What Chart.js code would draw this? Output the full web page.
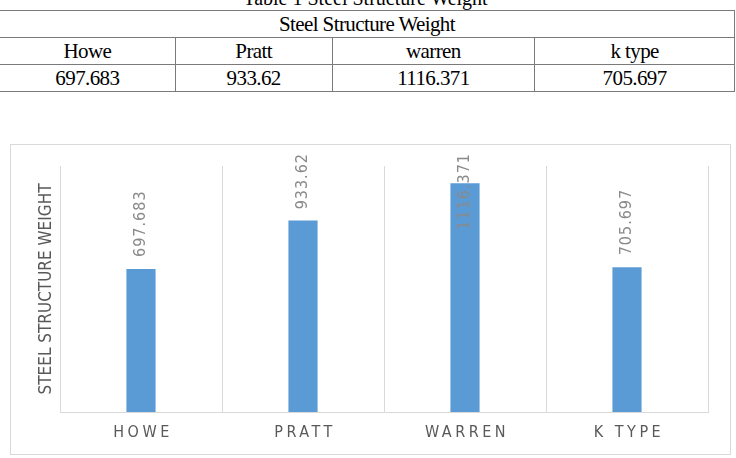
<!DOCTYPE html>
<html>
<head>
<meta charset="utf-8">
<script src="https://cdn.jsdelivr.net/npm/chart.js@4.4.1/dist/chart.umd.min.js"></script>
<style>
  body { margin: 0; background: #fff; width: 736px; height: 458px; overflow: hidden; position: relative; }
  #cap { position: absolute; left: 0; width: 731px; top: -13px; height: 20px; line-height: 20px; text-align: center;
         font: 20px "Liberation Serif", serif; color: #000; }
  #tbl { position: absolute; left: -1px; top: 10px; border-collapse: collapse; font: 21px "Liberation Serif", serif;
         letter-spacing: -0.6px; color: #000; }
  #tbl td { border: 1.5px solid #7a7a7a; text-align: center; padding: 0; height: 26px; line-height: 26px; }
  #box { position: absolute; left: 10px; top: 144px; width: 719px; height: 309px; border: 1px solid #d9d9d9; }
</style>
</head>
<body>
<div id="cap">Table 1 Steel Structure Weight</div>
<table id="tbl"></table>
<div id="box"><canvas id="chart"></canvas></div>
<script>
const tableTitle = "Steel Structure Weight";
const tableHeads = ["Howe", "Pratt", "warren", "k type"];
const categories = ["HOWE", "PRATT", "WARREN", "K TYPE"];
const weights = [697.683, 933.62, 1116.371, 705.697];
const axisTitle = "STEEL STRUCTURE WEIGHT";

// table above the chart
const colW = [175, 156, 202, 199];
const tbl = document.getElementById("tbl");
let html = `<tr><td colspan="4">${tableTitle}</td></tr><tr>`;
tableHeads.forEach((h, i) => { html += `<td style="width:${colW[i]}px">${h}</td>`; });
html += "</tr><tr>";
weights.forEach(w => { html += `<td>${w}</td>`; });
html += "</tr>";
tbl.innerHTML = html;

const NARROW = '"Liberation Sans Narrow", "DejaVu Sans Condensed", sans-serif';

const extras = {
    id: "extras",
    afterDatasetsDraw(chart) {
        const ctx = chart.ctx;
        const area = chart.chartArea;
        const x = chart.scales.x;
        const meta = chart.getDatasetMeta(0);

        // value labels, rotated
        ctx.save();
        ctx.font = "300 16px " + NARROW;
        ctx.letterSpacing = "1px";
        ctx.fillStyle = "#8a8a8a";
        ctx.textAlign = "left";
        ctx.textBaseline = "middle";
        meta.data.forEach((bar, i) => {
            const txt = String(weights[i]);
            const w = ctx.measureText(txt).width;
            let bottom = bar.y - 12;
            if (bottom - w < 8) bottom = 8 + w;
            ctx.save();
            ctx.translate(bar.x, bottom);
            ctx.rotate(-Math.PI / 2);
            ctx.fillText(txt, 0, 0);
            ctx.restore();
        });
        ctx.restore();

        // category labels
        ctx.save();
        ctx.font = "16px " + NARROW;
        ctx.letterSpacing = "3.5px";
        ctx.fillStyle = "#595959";
        ctx.textAlign = "center";
        ctx.textBaseline = "middle";
        categories.forEach((c, i) => {
            ctx.fillText(c, x.getPixelForValue(i) + 2, area.bottom + 21);
        });
        ctx.restore();

        // y axis title
        ctx.save();
        ctx.font = "17px " + NARROW;
        ctx.fillStyle = "#595959";
        ctx.textAlign = "center";
        ctx.textBaseline = "middle";
        ctx.translate(36, (area.top + area.bottom) / 2);
        ctx.rotate(-Math.PI / 2);
        ctx.fillText(axisTitle, 0, 0);
        ctx.restore();
    }
};

new Chart(document.getElementById("chart"), {
    type: "bar",
    data: {
        labels: categories,
        datasets: [{
            data: weights,
            backgroundColor: "#5b9bd5",
            categoryPercentage: 1,
            barPercentage: 0.18
        }]
    },
    options: {
        responsive: true,
        maintainAspectRatio: false,
        animation: false,
        layout: { padding: { left: 0, top: 21, right: 22, bottom: 0 } },
        plugins: { legend: { display: false }, tooltip: { enabled: false } },
        scales: {
            x: {
                offset: true,
                grid: { color: "#d9d9d9", drawTicks: false, offset: true },
                border: { color: "#d9d9d9" },
                ticks: { display: false },
                afterFit(s) { s.height = 42; }
            },
            y: {
                min: 0,
                max: 1200,
                grid: { display: false },
                border: { color: "#d9d9d9" },
                ticks: { display: false },
                afterFit(s) { s.width = 49; }
            }
        }
    },
    plugins: [extras]
});
</script>
</body>
</html>
